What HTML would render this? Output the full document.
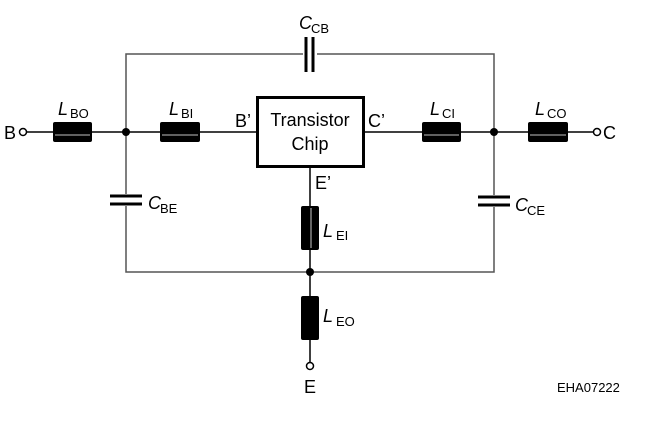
<!DOCTYPE html>
<html><head><meta charset="utf-8"><style>
html,body{margin:0;padding:0;background:#fff;}
svg{display:block;}
text{font-family:"Liberation Sans",sans-serif;fill:#000;}
</style></head><body>
<svg width="650" height="421" viewBox="0 0 650 421" xmlns="http://www.w3.org/2000/svg">
<g stroke="#555" stroke-width="1.5" fill="none">
<polyline points="126,132 126,54 494,54 494,132"/>
<polyline points="126,132 126,272 494,272 494,132"/>
</g>
<g stroke="#000" stroke-width="1.5" fill="none">
<line x1="27" y1="132" x2="256" y2="132"/>
<line x1="364" y1="132" x2="593" y2="132"/>
<line x1="310" y1="167" x2="310" y2="362"/>
<circle cx="23" cy="132" r="3.5" fill="#fff"/>
<circle cx="597" cy="132" r="3.5" fill="#fff"/>
<circle cx="310" cy="366" r="3.5" fill="#fff"/>
</g>
<rect x="257.5" y="97.5" width="106" height="69" fill="#fff" stroke="#000" stroke-width="3"/>
<g fill="#000">
<rect x="53" y="122" width="39" height="20" rx="2"/>
<rect x="160" y="122" width="40" height="20" rx="2"/>
<rect x="422" y="122" width="39" height="20" rx="2"/>
<rect x="528" y="122" width="40" height="20" rx="2"/>
<rect x="301" y="206" width="18" height="44" rx="2"/>
<rect x="301" y="296" width="18" height="44" rx="2"/>
<circle cx="126" cy="132" r="4"/>
<circle cx="494" cy="132" r="4"/>
<circle cx="310" cy="272" r="4"/>
</g>
<g stroke="#fff" stroke-width="0.8">
<line x1="55" y1="135" x2="90" y2="135"/>
<line x1="162" y1="135" x2="198" y2="135"/>
<line x1="424" y1="135" x2="459" y2="135"/>
<line x1="530" y1="135" x2="566" y2="135"/>
<line x1="311" y1="208" x2="311" y2="248"/>
</g>
<g fill="#fff"><rect x="303" y="44" width="14" height="20"/><rect x="110" y="194" width="32" height="12"/><rect x="478" y="195" width="32" height="12"/></g>
<g stroke="#000" stroke-width="3">
<line x1="306" y1="37" x2="306" y2="72"/><line x1="313" y1="37" x2="313" y2="72"/>
<line x1="110" y1="196" x2="142" y2="196"/><line x1="110" y1="204" x2="142" y2="204"/>
<line x1="478" y1="197" x2="510" y2="197"/><line x1="478" y1="205" x2="510" y2="205"/>
</g>
<g font-size="18">
<text x="4" y="139">B</text>
<text x="603" y="139">C</text>
<text x="304" y="393">E</text>
<text x="235" y="127">B’</text>
<text x="368" y="127">C’</text>
<text x="315" y="189">E’</text>
<text x="310" y="126" text-anchor="middle">Transistor</text>
<text x="310" y="150" text-anchor="middle">Chip</text>
</g>
<g font-size="18" font-style="italic">
<text x="58" y="115">L</text><text x="169" y="115">L</text><text x="430" y="115">L</text><text x="535" y="115">L</text>
<text x="323" y="237">L</text><text x="323" y="322">L</text>
<text x="299" y="29">C</text><text x="148" y="209">C</text><text x="515" y="211">C</text>
</g>
<g font-size="13">
<text x="70" y="118">BO</text><text x="181" y="118">BI</text><text x="442" y="118">CI</text><text x="547" y="118">CO</text>
<text x="336" y="240">EI</text><text x="336" y="326">EO</text>
<text x="311" y="33">CB</text><text x="160" y="213">BE</text><text x="527" y="215">CE</text>
<text x="557" y="392">EHA07222</text>
</g>
</svg>
</body></html>
